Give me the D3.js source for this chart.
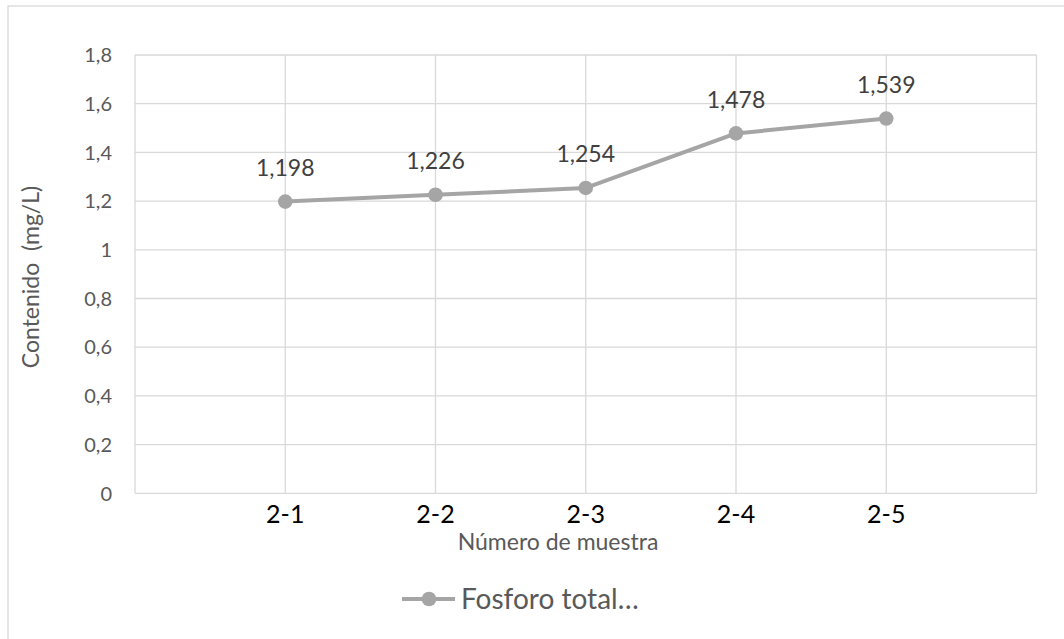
<!DOCTYPE html>
<html><head><meta charset="utf-8">
<script src="https://cdn.jsdelivr.net/npm/d3@7"></script>
<style>body{margin:0;background:#fff;} text{font-family:Lato,"Open Sans",sans-serif;white-space:pre;}</style>
</head><body>
<svg id="c" width="1064" height="639"></svg>
<script>
const categories = ["2-1","2-2","2-3","2-4","2-5"];
const values = [1.198,1.226,1.254,1.478,1.539];
const valueLabels = ["1,198","1,226","1,254","1,478","1,539"];
const yTicks = [0,0.2,0.4,0.6,0.8,1,1.2,1.4,1.6,1.8];
const yTickLabels = ["0","0,2","0,4","0,6","0,8","1","1,2","1,4","1,6","1,8"];
const seriesName = "Fosforo total…";
const xTitle = "Número de muestra";
const yTitle = "Contenido  (mg/L)";

const svg = d3.select("#c");
const L = 135, R = 1036.5, T = 55, B = 493.3;
const grid = "#d9d9d9";
svg.append("rect").attr("x",8).attr("y",6).attr("width",1070).attr("height",650)
  .attr("fill","none").attr("stroke",grid).attr("stroke-width",1.3);

const x = d3.scalePoint().domain(categories).range([L,R]).padding(1);
const y = d3.scaleLinear().domain([0,1.8]).range([B,T]);

const g = svg.append("g");
g.selectAll(".hg").data(yTicks).join("line")
  .attr("x1",L).attr("x2",R).attr("y1",d=>y(d)).attr("y2",d=>y(d))
  .attr("stroke",grid).attr("stroke-width",1.3);
g.selectAll(".vg").data(categories).join("line")
  .attr("x1",d=>x(d)).attr("x2",d=>x(d))
  .attr("y1",T).attr("y2",B).attr("stroke",grid).attr("stroke-width",1.3);
g.append("line").attr("x1",L).attr("x2",L).attr("y1",T).attr("y2",B).attr("stroke",grid).attr("stroke-width",1.3);
g.append("line").attr("x1",R).attr("x2",R).attr("y1",T).attr("y2",B).attr("stroke",grid).attr("stroke-width",1.3);

g.selectAll(".yl").data(yTicks).join("text")
  .attr("x",112).attr("y",d=>y(d)).attr("dy","0.36em").attr("text-anchor","end")
  .attr("font-size",20).attr("fill","#595959").text((d,i)=>yTickLabels[i]);
g.selectAll(".xl").data(categories).join("text")
  .attr("x",d=>x(d)).attr("y",514).attr("dy","0.36em").attr("text-anchor","middle")
  .attr("font-size",25).attr("fill","#000").text(d=>d);

svg.append("text").attr("x",558).attr("y",542).attr("dy","0.36em").attr("text-anchor","middle")
  .attr("font-size",23).attr("fill","#595959").text(xTitle);
svg.append("text").attr("transform","translate(31,277) rotate(-90)").attr("dy","0.36em").attr("text-anchor","middle")
  .attr("font-size",23).attr("fill","#595959").text(yTitle);

const line = d3.line().x((d,i)=>x(categories[i])).y(d=>y(d));
svg.append("path").datum(values).attr("d",line).attr("fill","none")
  .attr("stroke","#a5a5a5").attr("stroke-width",4).attr("stroke-linejoin","round");
svg.selectAll(".pt").data(values).join("circle")
  .attr("cx",(d,i)=>x(categories[i])).attr("cy",d=>y(d)).attr("r",7.3).attr("fill","#a5a5a5");
svg.selectAll(".vl").data(values).join("text")
  .attr("x",(d,i)=>x(categories[i])).attr("y",d=>y(d)-34).attr("dy","0.36em").attr("text-anchor","middle")
  .attr("font-size",23).attr("fill","#404040").text((d,i)=>valueLabels[i]);

const lg = svg.append("g");
lg.append("line").attr("x1",402).attr("x2",455).attr("y1",599).attr("y2",599).attr("stroke","#a5a5a5").attr("stroke-width",4);
lg.append("circle").attr("cx",429).attr("cy",599).attr("r",7.3).attr("fill","#a5a5a5");
lg.append("text").attr("x",461).attr("y",599).attr("dy","0.36em").attr("font-size",28).attr("fill","#595959").text(seriesName);
</script>
</body></html>
